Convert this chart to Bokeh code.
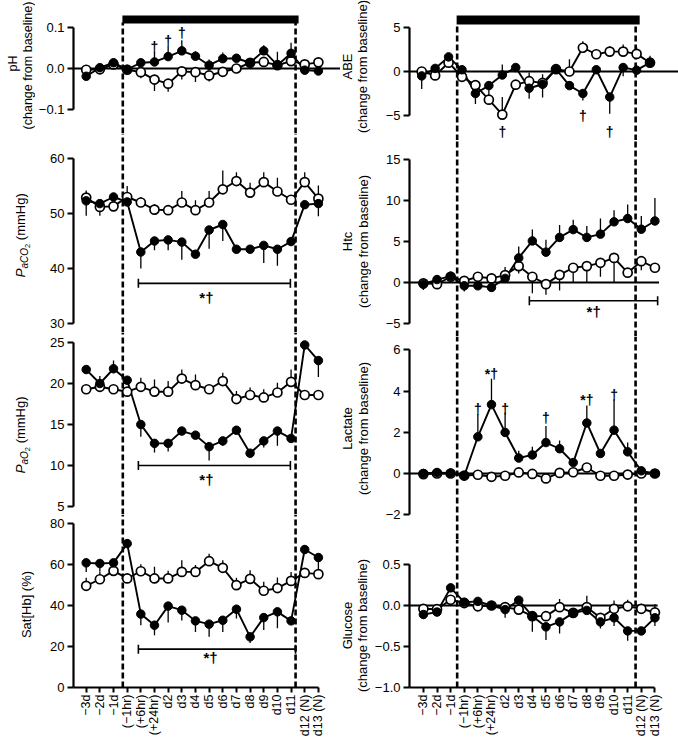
import math
from bokeh.plotting import figure
from bokeh.layouts import row, column
from bokeh.models import Range1d, FixedTicker
from bokeh.core.properties import value
from bokeh.embed import file_html
from bokeh.resources import INLINE

FONT = "Liberation Sans"

# ---------------- data ----------------
categories = ["\u22123d", "\u22122d", "\u22121d", "(\u22121hr)", "(+6hr)", "(+24hr)", "d2", "d3",
              "d4", "d5", "d6", "d7", "d8", "d9", "d10", "d11", "d12 (N)", "d13 (N)"]

ph_filled = [-0.019, 0.002, 0.014, -0.002, 0.014, 0.016, 0.029, 0.043, 0.030, 0.008, 0.024, 0.025,
             0.014, 0.043, 0.008, 0.037, -0.004, -0.006]
ph_filled_err = [0, 0, 0.008, 0, 0.008, 0.025, 0.025, 0.026, 0.012, 0.014, 0.015, 0.008, 0.008,
                 0.014, 0.033, 0.026, 0, 0]
ph_open = [-0.003, -0.002, 0.010, -0.003, -0.009, -0.027, -0.037, -0.007, -0.009, -0.017, -0.008,
           0.0, 0.014, 0.016, 0.008, 0.018, 0.010, 0.015]
ph_open_err = [0, 0, 0, 0, -0.015, -0.028, -0.02, -0.02, -0.024, -0.015, -0.01, 0, 0, 0, 0, 0, 0, 0]
ph_marks = [(5, 0.053, "\u2020"), (6, 0.068, "\u2020"), (7, 0.086, "\u2020")]

abe_filled = [-0.5, 0.35, 1.66, 0.2, -2.5, -1.6, -0.4, 0.45, -1.9, -1.45, 0.26, -1.6, -2.5, 0.2,
              -2.9, 0.45, 0.15, 1.0]
abe_filled_err = [-1.5, 0, 0, 0, -1.2, -1.3, 1.2, 0, -1.2, -1.5, 0, 0, -0.8, 0, -1.9, -1.0, 0, 0.8]
abe_open = [0.0, -0.45, 1.0, -0.6, -1.55, -3.2, -4.9, -1.5, -1.1, -1.3, 0.26, 0.0, 2.7, 1.96, 2.26,
            2.26, 2.0, 1.0]
abe_open_err = [0, 0, 0, 0, 0, 0, 2.0, 0, 1.0, 1.0, 0, 1.4, 0.75, 0.6, 0.6, 0.8, 0.75, 0]
abe_marks = [(6, -6.9, "\u2020"), (12, -5.0, "\u2020"), (14, -6.9, "\u2020")]

paco2_filled = [52.3, 51.8, 53.0, 52.1, 43.0, 45.0, 45.2, 44.8, 42.6, 47.0, 48.0, 43.5, 43.5, 44.2,
                43.5, 44.9, 51.6, 51.8]
paco2_filled_err = [-2.7, -2.2, 0, 0, -3.0, -1.7, -1.9, -3.2, -0.5, -3.4, -3.0, -0.5, -0.5, -3.2,
                    -3.0, -0.5, 0, -2.3]
paco2_open = [52.9, 51.2, 51.3, 53.0, 52.0, 50.7, 50.6, 52.0, 50.6, 52.0, 54.4, 55.9, 53.8, 55.7,
              54.0, 52.5, 55.7, 52.7]
paco2_open_err = [1.3, 0, 0, 2.0, 1.0, 1.0, 0, 2.1, 1.8, 2.1, 3.4, 1.6, 1.8, 1.8, 2.5, 0, 1.8, 2.4]

htc_filled = [-0.2, 0.36, 0.77, -0.4, -0.4, -0.6, 0.5, 3.0, 5.07, 3.7, 5.5, 6.45, 5.5, 5.9, 7.4,
              7.8, 6.5, 7.5]
htc_filled_err = [-0.7, 0, 0, -0.7, 0, 0, 1.4, 1.4, 1.4, 1.5, 1.5, 1.2, 1.4, 1.9, 1.4, 1.7, 1.6, 2.8]
htc_open = [-0.1, -0.2, 0.7, 0.2, 0.7, 0.5, 0.9, 2.0, 0.7, -0.2, 0.93, 1.8, 2.0, 2.4, 3.0, 1.2,
            2.6, 1.8]
htc_open_err = [0, 0, 0, 0, 0, 0, 0, -0.9, -2.0, -1.3, -1.9, -1.8, -2.0, -1.7, -3.0, 0, -1.1, 0]

pao2_filled = [21.7, 20.0, 21.8, 20.4, 15.0, 12.7, 12.7, 14.2, 13.7, 12.3, 13.0, 14.3, 11.5, 13.0,
               14.2, 13.3, 24.7, 22.8]
pao2_filled_err = [0, 0.9, 1.0, 0, -1.5, -1.1, -1.0, 0, 0, -1.7, -0.6, 0, -0.5, -0.8, -1.8, 0, 0,
                   -2.0]
pao2_open = [19.3, 19.6, 19.3, 19.0, 19.6, 19.0, 19.0, 20.6, 19.8, 19.3, 20.3, 18.1, 18.6, 18.3,
             18.9, 20.2, 18.6, 18.6]
pao2_open_err = [0, 0.5, 0, 0, 1.1, 1.5, 1.3, 1.1, 1.3, 0, 1.0, 1.0, 0.9, 1.0, 1.2, 1.5, 0, 0]

lac_filled = [0.0, 0.05, 0.02, -0.11, 1.78, 3.34, 1.99, 0.75, 0.9, 1.5, 1.2, 0.53, 2.45, 0.97, 2.1,
              1.05, 0.13, 0.0]
lac_filled_err = [0, 0, 0, 0, 1.1, 1.25, 0.97, 0.35, 0.4, 0.8, 0.4, 0, 0.85, 0, 1.5, 0.45, 0, 0]
lac_open = [-0.03, 0.0, 0.0, -0.1, -0.06, -0.16, -0.11, 0.05, -0.02, -0.24, 0.03, 0.06, 0.29,
            -0.11, -0.11, -0.05, 0.0, 0.0]
lac_open_err = [0] * 18
lac_marks = [(4, 3.13, "\u2020"), (5, 4.83, "*\u2020"), (6, 3.13, "\u2020"), (9, 2.69, "\u2020"),
             (12, 3.57, "*\u2020"), (14, 3.82, "\u2020")]

sat_filled = [60.8, 60.5, 60.8, 70.2, 35.8, 30.4, 39.7, 37.7, 32.5, 30.9, 32.8, 38.2, 24.7, 34.1,
              36.9, 32.5, 67.3, 63.4]
sat_filled_err = [-4.4, -4.0, 0, 0, -5.4, -4.9, -8.0, -5.0, -5.4, -6.2, -5.7, -4.6, -3.0, -6.0,
                  -8.0, 0, 0, -6.0]
sat_open = [49.6, 52.8, 56.9, 53.2, 56.7, 53.2, 53.2, 56.4, 56.4, 61.6, 58.4, 49.9, 53.0, 47.2,
            48.5, 52.0, 55.9, 55.3]
sat_open_err = [3.9, 3.6, 0, 0, 3.4, 5.7, 3.7, 5.7, 3.3, 3.7, 3.7, 3.6, 4.2, 4.4, 5.2, 4.4, 0, 0]

glu_filled = [-0.11, -0.08, 0.215, 0.04, 0.05, 0.0, -0.05, 0.065, -0.13, -0.26, -0.2, -0.09, -0.06,
              -0.2, -0.15, -0.31, -0.31, -0.15]
glu_filled_err = [-0.05, 0, 0, 0, 0, 0, -0.1, 0, -0.19, -0.16, -0.14, 0, 0, -0.08, -0.1, -0.12, 0,
                  -0.1]
glu_open = [-0.04, -0.045, 0.07, 0.03, -0.01, 0.0, -0.02, -0.05, -0.13, -0.13, -0.02, -0.09, -0.02,
            -0.15, -0.04, -0.01, -0.04, -0.085]
glu_open_err = [0.05, 0, 0, 0, 0, 0, 0, 0, 0, 0, 0.1, 0, 0.14, 0, 0.1, 0.08, 0.06, 0.1]

# significance brackets: (x_from, x_to, y, label_x, label_y)
paco2_bracket = (3.82, 14.95, 37.3, 8.8, 34.8)
pao2_bracket = (3.82, 14.95, 10.0, 8.8, 8.3)
sat_bracket = (3.82, 15.33, 18.7, 9.1, 14.8)
htc_bracket = (7.78, 17.2, -2.23, 12.5, -3.57)

# hypoxia period markers (category-index units per column)
left_period = (2.68, 15.33)
right_period = (2.48, 15.58)
abe_period = (2.64, 15.93)

# ---------------- layout helpers ----------------
X = list(range(len(categories)))
TOTAL_H = 741
LEFT = dict(cl=35, w=305, fl=71, px0=83.8, sp=13.76)
RIGHT = dict(cl=371, w=307, fl=407, px0=421.0, sp=13.72)
RIGHT_ABE = dict(cl=371, w=307, fl=407, px0=419.3, sp=13.53)

WIDTHS = {"P": .667, "a": .556, "C": .722, "O": .778, "2": .556, " ": .278, "(": .333, "m": .833,
          "H": .722, "g": .556, ")": .333}


def text_w(t, size):
    return sum(WIDTHS.get(c, .556) for c in t) * size


class Panel:
    def __init__(self, col, ct, h, bb, yref, vref, ppu, ticks, tlabels, bottom=False):
        self.col, self.ct, self.yref, self.vref, self.ppu = col, ct, yref, vref, ppu
        xs = (col["fl"] - col["px0"]) / col["sp"]
        xe = (col["cl"] + col["w"] - col["px0"]) / col["sp"]
        ye = self.v(ct)
        ys = self.v(ct + h - bb)
        self.xs, self.xe, self.ys, self.ye = xs, xe, ys, ye
        p = figure(width=col["w"], height=h, x_range=Range1d(xs, xe), y_range=Range1d(ys, ye),
                   output_backend="svg", toolbar_location=None, tools="",
                   x_axis_location="below" if bottom else None, y_axis_location="left",
                   min_border=0, min_border_left=col["fl"] - col["cl"], min_border_right=0,
                   min_border_top=0, min_border_bottom=bb, outline_line_color=None)
        p.grid.visible = False
        ax = p.yaxis[0]
        ax.ticker = FixedTicker(ticks=ticks)
        ax.bounds = (min(ticks), max(ticks))
        ax.major_label_overrides = {t: l for t, l in zip(ticks, tlabels)}
        ax.axis_line_width = 2.2
        ax.major_tick_line_width = 2
        ax.major_tick_out = 6
        ax.major_tick_in = 0
        ax.minor_tick_line_color = None
        ax.major_label_text_font = FONT
        ax.major_label_text_font_size = "13px"
        ax.major_label_text_color = "black"
        ax.major_label_standoff = 3
        if bottom:
            xa = p.xaxis[0]
            xa.ticker = FixedTicker(ticks=X)
            xa.major_label_overrides = {i: c for i, c in zip(X, categories)}
            xa.major_label_orientation = math.pi / 2
            xa.bounds = (xs, X[-1])
            xa.axis_line_width = 2.2
            xa.major_tick_line_width = 2
            xa.major_tick_out = 5
            xa.major_tick_in = 0
            xa.minor_tick_line_color = None
            xa.major_label_text_font = FONT
            xa.major_label_text_font_size = "12.5px"
            xa.major_label_text_color = "black"
            xa.major_label_standoff = 2
        self.p = p

    def v(self, ypage):
        return self.vref - (ypage - self.yref) / self.ppu

    def zero_line(self, x_end=None):
        self.p.segment(x0=[self.xs], y0=[0], x1=[x_end if x_end is not None else self.xe], y1=[0],
                       line_color="black", line_width=1.8)

    def period(self, per, top=None, bottom=None):
        y1 = self.ye if top is None else top
        y0 = self.ys if bottom is None else bottom
        self.p.segment(x0=list(per), y0=[y0, y0], x1=list(per), y1=[y1, y1],
                       line_color="black", line_width=2.6, line_dash="6 3")

    def series(self, filled, ferr, opn, oerr):
        p = self.p
        p.segment(x0=X, y0=opn, x1=X, y1=[a + b for a, b in zip(opn, oerr)],
                  line_color="black", line_width=1.3)
        p.segment(x0=X, y0=filled, x1=X, y1=[a + b for a, b in zip(filled, ferr)],
                  line_color="black", line_width=1.3)
        p.line(X, opn, line_color="black", line_width=1.9)
        p.line(X, filled, line_color="black", line_width=1.9)
        p.scatter(X, opn, marker="circle", size=9, fill_color="white", line_color="black",
                  line_width=1.7)
        p.scatter(X, filled, marker="circle", size=8.5, fill_color="black", line_color="black")

    def marks(self, items, size="14px"):
        self.p.text(x=[m[0] for m in items], y=[m[1] for m in items], text=[m[2] for m in items],
                    text_font=value(FONT), text_font_size=value(size), text_font_style="bold",
                    text_align="center", text_baseline="middle", text_color="black")

    def bracket(self, b):
        x0, x1, y, lx, ly = b
        self.p.segment(x0=[x0], y0=[y], x1=[x1], y1=[y], line_color="black", line_width=1.6)
        self.p.scatter([x0, x1], [y, y], marker="dash", angle=math.pi / 2, size=9,
                       line_color="black", line_width=1.6)
        self.marks([(lx, ly, "*\u2020")], size="15px")


class LabelStrip:
    """A narrow figure holding the rotated y-axis titles, in page pixel coordinates."""

    def __init__(self, x0, x1):
        p = figure(width=x1 - x0, height=TOTAL_H, x_range=Range1d(x0, x1),
                   y_range=Range1d(-TOTAL_H, 0),
                   output_backend="svg", toolbar_location=None, tools="",
                   x_axis_location=None, y_axis_location=None, min_border=0,
                   outline_line_color=None)
        p.grid.visible = False
        self.p = p

    def label(self, text, x, y, size=12.5, style="normal", align="center"):
        self.p.text(x=[x], y=[-y], text=[text], angle=math.pi / 2, text_align=align,
                    text_baseline="middle", text_font=value(FONT),
                    text_font_size=value(f"{size}px"), text_font_style=style, text_color="black")

    def rich(self, pieces, x, ystart):
        # pieces: (text, size, style, subscript shift); leading spaces become a gap
        y = ystart
        for txt, size, style, dx in pieces:
            stripped = txt.lstrip(" ")
            y -= text_w(txt[: len(txt) - len(stripped)], size)
            self.label(stripped, x + dx, y, size=size, style=style, align="left")
            y -= text_w(stripped, size)


# ---------------- left column ----------------
ph = Panel(LEFT, 0, 133, 0, 68, 0.0, 410.0, [-0.1, 0.0, 0.1], ["\u22120.1", "0.0", "0.1"])
ph.p.quad(left=[left_period[0] - 0.03], right=[left_period[1] + 0.22], bottom=[ph.v(23)],
          top=[ph.v(15)], fill_color="black", line_color=None)
ph.period(left_period, top=ph.v(22))
ph.zero_line()
ph.series(ph_filled, ph_filled_err, ph_open, ph_open_err)
ph.marks(ph_marks)

paco2 = Panel(LEFT, 133, 199, 0, 158, 60.0, 5.5, [30, 40, 50, 60], ["30", "40", "50", "60"])
paco2.period(left_period)
paco2.series(paco2_filled, paco2_filled_err, paco2_open, paco2_open_err)
paco2.bracket(paco2_bracket)

pao2 = Panel(LEFT, 332, 182, 0, 342, 25.0, 8.2, [5, 10, 15, 20, 25], ["5", "10", "15", "20", "25"])
pao2.period(left_period)
pao2.series(pao2_filled, pao2_filled_err, pao2_open, pao2_open_err)
pao2.bracket(pao2_bracket)

sat = Panel(LEFT, 514, 227, 54, 687, 0.0, 2.05, [0, 20, 40, 60, 80], ["0", "20", "40", "60", "80"],
            bottom=True)
sat.period(left_period, bottom=0)
sat.series(sat_filled, sat_filled_err, sat_open, sat_open_err)
sat.bracket(sat_bracket)

left_titles = LabelStrip(0, 35)
left_titles.label("pH", 12, 63, size=12.5)
left_titles.label("(change from baseline)", 27, 65, size=12.5)
left_titles.rich([("P", 13.5, "italic", 0), ("aCO", 10, "italic", 4), ("2", 7.5, "normal", 7),
                  (" (mmHg)", 13, "normal", 0)], 20, 277)
left_titles.rich([("P", 13.5, "italic", 0), ("aO", 10, "italic", 4), ("2", 7.5, "normal", 7),
                  (" (mmHg)", 13, "normal", 0)], 20, 473)
left_titles.label("Sat[Hb] (%)", 26, 604, size=13)

# ---------------- right column ----------------
abe = Panel(RIGHT_ABE, 0, 140, 0, 71, 0.0, 8.8, [-5, 0, 5], ["\u22125", "0", "5"])
abe.p.quad(left=[abe_period[0] - 0.04], right=[abe_period[1] + 0.3], bottom=[abe.v(24)],
           top=[abe.v(15)], fill_color="black", line_color=None)
abe.period(abe_period, top=abe.v(23))
abe.zero_line()
abe.series(abe_filled, abe_filled_err, abe_open, abe_open_err)
abe.marks(abe_marks)

htc = Panel(RIGHT, 140, 196, 0, 282, 0.0, 8.2, [-5, 0, 5, 10, 15], ["\u22125", "0", "5", "10", "15"])
htc.period(right_period)
htc.zero_line(17.3)
htc.series(htc_filled, htc_filled_err, htc_open, htc_open_err)
htc.bracket(htc_bracket)

lac = Panel(RIGHT, 336, 203, 0, 473, 0.0, 20.625, [-2, 0, 2, 4, 6], ["\u22122", "0", "2", "4", "6"])
lac.period(right_period)
lac.zero_line(17.35)
lac.series(lac_filled, lac_filled_err, lac_open, lac_open_err)
lac.marks(lac_marks)

glu = Panel(RIGHT, 539, 202, 54, 687, -1.0, 82.0, [-1.0, -0.5, 0.0, 0.5],
            ["\u22121.0", "\u22120.5", "0.0", "0.5"], bottom=True)
glu.period(right_period, bottom=-1.0)
glu.zero_line(17.2)
glu.series(glu_filled, glu_filled_err, glu_open, glu_open_err)

right_titles = LabelStrip(340, 371)
right_titles.label("ABE", 347, 66, size=13)
right_titles.label("(change from baseline)", 362, 66, size=13)
right_titles.label("Htc", 347, 241, size=13)
right_titles.label("(change from baseline)", 363, 241, size=13)
right_titles.label("Lactate", 347, 428, size=13)
right_titles.label("(change from baseline)", 363, 428, size=13)
right_titles.label("Glucose", 347, 625, size=13)
right_titles.label("(change from baseline)", 362, 625, size=13)

layout = row(left_titles.p, column(ph.p, paco2.p, pao2.p, sat.p),
             right_titles.p, column(abe.p, htc.p, lac.p, glu.p))

with open("out.html", "w") as f:
    f.write(file_html(layout, INLINE))
